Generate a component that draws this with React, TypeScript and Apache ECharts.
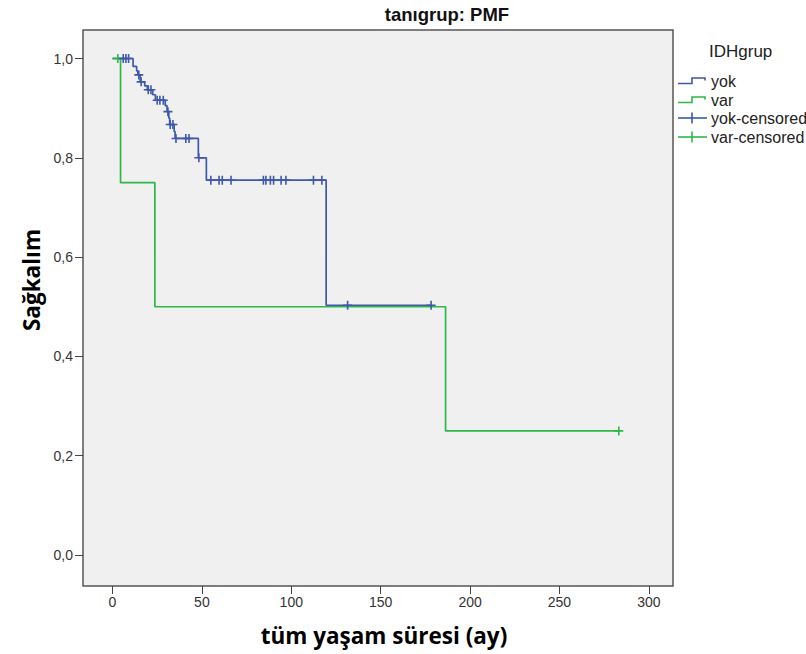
import React, { useEffect, useRef } from "react";
import * as echarts from "echarts";

// ---- data ----
const xTicks = [0, 50, 100, 150, 200, 250, 300];
const yTicks = [0, 0.2, 0.4, 0.6, 0.8, 1.0];

// "yok" group (blue) Kaplan-Meier steps: time at which the curve drops, and the new level
const yokStepTimes = [0, 11.5, 13.5, 14.2, 15.5, 18, 19.5, 22.5, 24, 29.5, 30.5, 31.5, 32, 34.5, 35, 48, 52.5, 119.5];
const yokStepLevels = [1, 0.984, 0.975, 0.967, 0.953, 0.945, 0.937, 0.927, 0.916, 0.905, 0.893, 0.88, 0.867, 0.853, 0.839, 0.8, 0.755, 0.503];
const yokEnd = 178.2;
const yokCensorTimes = [6, 7.5, 9, 14.7, 16, 20, 21.5, 25, 26.5, 28.4, 31, 32.3, 33.8, 35.5, 41, 42.8, 48.3, 55, 59.6, 61.4, 66.3, 84.4, 85.8, 88.3, 90.1, 94.3, 97, 112.4, 117.1, 131.5, 178.2];

// "var" group (green)
const varStepTimes = [0, 4.5, 23.7, 186.3];
const varStepLevels = [1, 0.75, 0.5, 0.25];
const varEnd = 283.2;
const varCensorTimes = [3, 283.2];

const legendTitle = "IDHgrup";
const legendItems = ["yok", "var", "yok-censored", "var-censored"];

const BLUE = "#3E58AC";
const GREEN = "#2EB848";

function levelAt(times: number[], levels: number[], t: number): number {
  let v = levels[0];
  for (let i = 0; i < times.length; i++) {
    if (times[i] <= t) v = levels[i];
  }
  return v;
}

function stepData(times: number[], levels: number[], end: number) {
  const d = times.map((t, i) => [t, levels[i]]);
  d.push([end, levels[levels.length - 1]]);
  return d;
}

const CROSS = "path://M0,5L10,5M5,0L5,10";

export default function App() {
  const ref = useRef<HTMLDivElement>(null);

  useEffect(() => {
    if (!ref.current) return;
    const chart = echarts.init(ref.current, undefined, { renderer: "svg" });

    const gl = { left: 83, top: 30, width: 590, height: 556 };
    const lx0 = 678;
    const itemY = [81, 100, 118, 137];

    const legendGraphics: any[] = [
      {
        type: "text",
        x: 709,
        y: 51,
        style: {
          text: legendTitle,
          font: "17px 'Liberation Sans', Arial, sans-serif",
          fill: "#222",
          textAlign: "left",
          textVerticalAlign: "middle",
        },
      },
    ];
    legendItems.forEach((name, i) => {
      const y = itemY[i];
      const color = i % 2 === 0 ? BLUE : GREEN;
      if (i < 2) {
        legendGraphics.push({
          type: "polyline",
          shape: { points: [[lx0, y + 2.5], [lx0 + 14, y + 2.5], [lx0 + 14, y - 3], [lx0 + 27, y - 3], [lx0 + 27, y - 0.5]] },
          style: { stroke: color, lineWidth: 1.6, fill: "none" },
        });
      } else {
        legendGraphics.push({
          type: "line",
          shape: { x1: lx0, y1: y, x2: lx0 + 29, y2: y },
          style: { stroke: color, lineWidth: 1.6 },
        });
        legendGraphics.push({
          type: "line",
          shape: { x1: lx0 + 14, y1: y - 5.5, x2: lx0 + 14, y2: y + 5.5 },
          style: { stroke: color, lineWidth: 1.6 },
        });
      }
      legendGraphics.push({
        type: "text",
        x: 711,
        y: y,
        style: {
          text: name,
          font: "16px 'Liberation Sans', Arial, sans-serif",
          fill: "#222",
          textAlign: "left",
          textVerticalAlign: "middle",
        },
      });
    });

    const option: any = {
      animation: false,
      backgroundColor: "#ffffff",
      grid: {
        ...gl,
        show: true,
        backgroundColor: "#f0f0f0",
        borderColor: "#555555",
        borderWidth: 1.5,
        containLabel: false,
      },
      xAxis: {
        type: "value",
        min: -16.5,
        max: 313.5,
        axisLine: { show: false, onZero: false },
        splitLine: { show: false },
        axisTick: {
          show: true,
          inside: false,
          length: 8,
          customValues: xTicks,
          lineStyle: { color: "#444", width: 1 },
        },
        axisLabel: {
          customValues: xTicks,
          margin: 9,
          fontSize: 14,
          color: "#333",
          fontFamily: "'Liberation Sans', Arial, sans-serif",
        },
      },
      yAxis: {
        type: "value",
        min: -0.0624,
        max: 1.0574,
        axisLine: { show: false, onZero: false },
        splitLine: { show: false },
        axisTick: {
          show: true,
          inside: false,
          length: 8,
          customValues: yTicks,
          lineStyle: { color: "#444", width: 1 },
        },
        axisLabel: {
          customValues: yTicks,
          margin: 10,
          fontSize: 14,
          color: "#333",
          fontFamily: "'Liberation Sans', Arial, sans-serif",
          formatter: (v: number) => v.toFixed(1).replace(".", ","),
        },
      },
      series: [
        {
          name: "var",
          type: "line",
          step: "end",
          data: stepData(varStepTimes, varStepLevels, varEnd),
          showSymbol: false,
          symbol: "none",
          lineStyle: { color: GREEN, width: 1.7 },
          silent: true,
          z: 2,
        },
        {
          name: "yok",
          type: "line",
          step: "end",
          data: stepData(yokStepTimes, yokStepLevels, yokEnd),
          showSymbol: false,
          symbol: "none",
          lineStyle: { color: BLUE, width: 1.7 },
          silent: true,
          z: 3,
        },
        {
          name: "var-censored",
          type: "scatter",
          data: varCensorTimes.map((t) => [t, levelAt(varStepTimes, varStepLevels, t)]),
          symbol: CROSS,
          symbolSize: [9, 9],
          itemStyle: { color: GREEN, borderColor: GREEN, borderWidth: 1.6, opacity: 1 },
          silent: true,
          z: 4,
        },
        {
          name: "yok-censored",
          type: "scatter",
          data: yokCensorTimes.map((t) => [t, levelAt(yokStepTimes, yokStepLevels, t)]),
          symbol: CROSS,
          symbolSize: [9, 9],
          itemStyle: { color: BLUE, borderColor: BLUE, borderWidth: 1.6, opacity: 1 },
          silent: true,
          z: 5,
        },
      ],
      graphic: [
        {
          type: "text",
          x: 447,
          y: 14,
          style: {
            text: "tanıgrup: PMF",
            font: "bold 18.5px 'Liberation Sans', Arial, sans-serif",
            fill: "#111",
            textAlign: "center",
            textVerticalAlign: "middle",
          },
        },
        {
          type: "text",
          x: 384,
          y: 635,
          style: {
            text: "tüm yaşam süresi (ay)",
            font: "bold 22.5px 'Open Sans', sans-serif",
            fill: "#000",
            textAlign: "center",
            textVerticalAlign: "middle",
          },
        },
        {
          type: "text",
          x: 31,
          y: 280,
          rotation: Math.PI / 2,
          style: {
            text: "Sağkalım",
            font: "bold 22.5px 'Open Sans', sans-serif",
            fill: "#000",
            textAlign: "center",
            textVerticalAlign: "middle",
          },
        },
        ...legendGraphics,
      ],
    };

    chart.setOption(option);
    return () => {
      chart.dispose();
    };
  }, []);

  return (
    <div
      ref={ref}
      style={{ position: "absolute", left: 0, top: 0, width: 806, height: 654 }}
    />
  );
}
